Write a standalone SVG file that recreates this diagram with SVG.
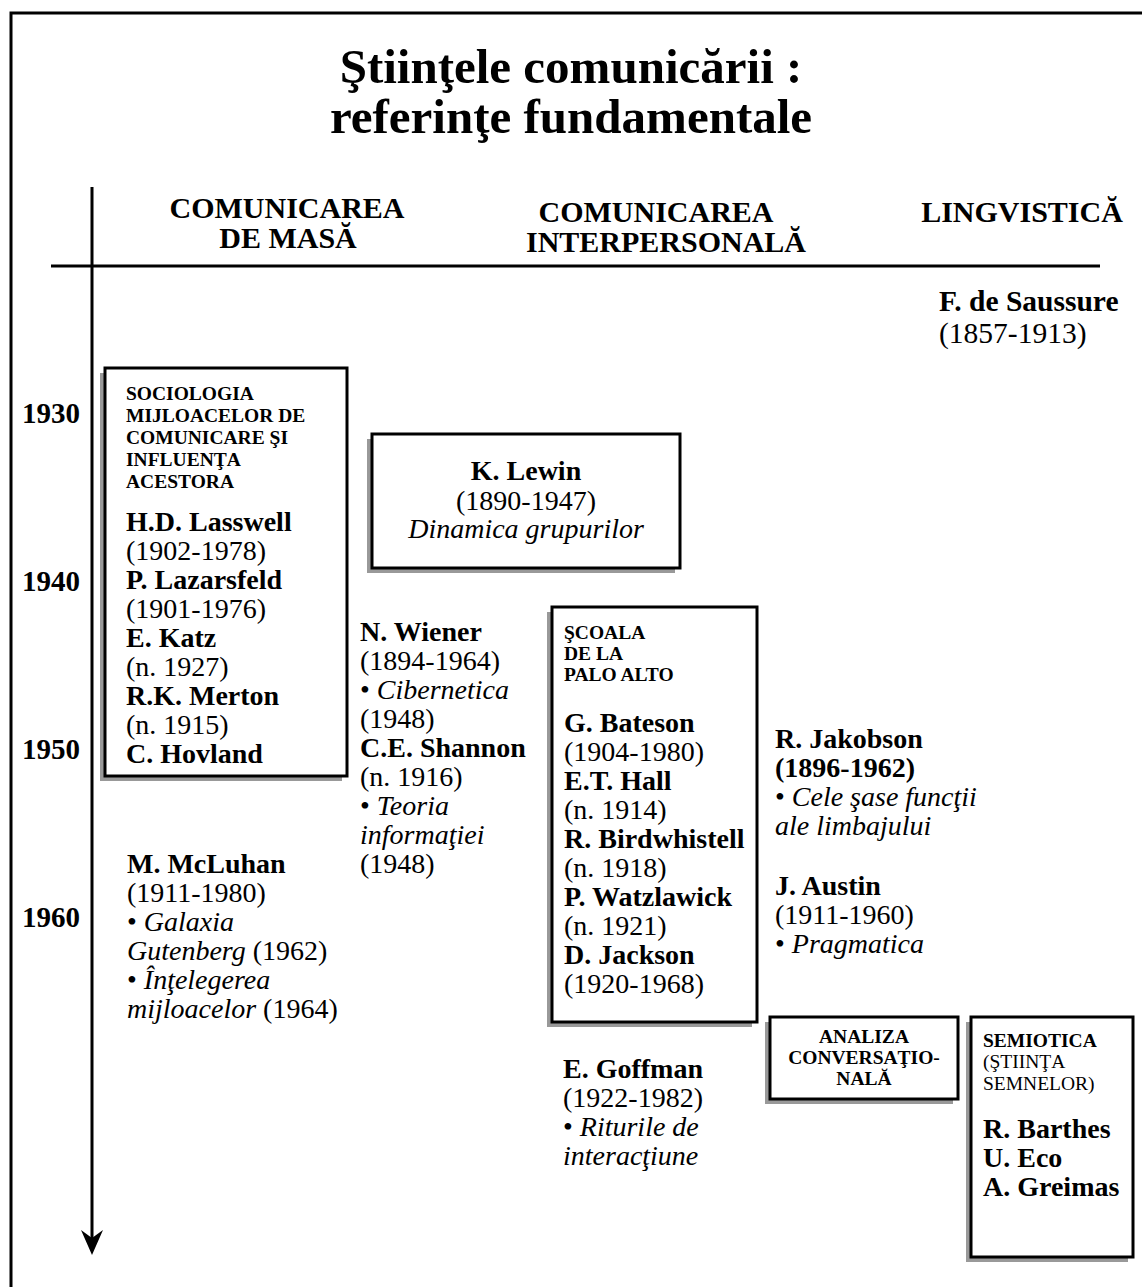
<svg xmlns="http://www.w3.org/2000/svg" width="1142" height="1287" viewBox="0 0 1142 1287">
  <style>
    text { font-family: "Liberation Serif", "Times New Roman", serif; fill: #000; }
    .title { font-size: 49px; font-weight: bold; text-anchor: middle; }
    .head { font-size: 30px; font-weight: bold; text-anchor: middle; }
    .year { font-size: 29px; font-weight: bold; }
    .t { font-size: 28px; }
    .b { font-weight: bold; }
    .i { font-style: italic; }
    .cap { font-size: 19.5px; font-weight: bold; }
    .capr { font-size: 19.5px; }
    .frame { fill: none; stroke: #000; stroke-width: 3; }
    .axis { fill: none; stroke: #000; stroke-width: 3; }
    .box { fill: #fff; stroke: #000; stroke-width: 3; }
    .shadow { fill: #999; }
  </style>

  <rect x="0" y="0" width="1142" height="1287" fill="#fff"/>
  <rect class="frame" x="11" y="13" width="1200" height="1300"/>

  <g id="title">
    <text class="title" x="571" y="83">Ştiinţele comunicării :</text>
    <text class="title" x="571" y="133">referinţe fundamentale</text>
  </g>

  <g id="headers">
    <text class="head" x="287" y="218">COMUNICAREA</text>
    <text class="head" x="288" y="248">DE MASĂ</text>
    <text class="head" x="656" y="222">COMUNICAREA</text>
    <text class="head" x="666" y="252">INTERPERSONALĂ</text>
    <text class="head" x="1022" y="222">LINGVISTICĂ</text>
  </g>

  <!-- time axis and column rule -->
  <g id="connectors">
    <line class="axis" x1="51" y1="266" x2="1100" y2="266"/>
    <line class="axis" x1="92" y1="187" x2="92" y2="1240"/>
    <path d="M81,1230 L92,1238 L103,1230 L92,1255 Z" fill="#000"/>
  </g>

  <g id="years">
    <text class="year" x="22" y="423">1930</text>
    <text class="year" x="22" y="591">1940</text>
    <text class="year" x="22" y="759">1950</text>
    <text class="year" x="22" y="927">1960</text>
  </g>

  <g id="saussure">
    <text class="t b" x="939" y="311" style="font-size:29.5px">F. de Saussure</text>
    <text class="t" x="939" y="343" style="font-size:29.5px">(1857-1913)</text>
  </g>

  <g id="sociologia">
    <rect class="shadow" x="100" y="373" width="242" height="408"/>
    <rect class="box" x="105" y="368" width="242" height="408"/>
    <text class="cap" x="126" y="400">SOCIOLOGIA</text>
    <text class="cap" x="126" y="422">MIJLOACELOR DE</text>
    <text class="cap" x="126" y="444">COMUNICARE ŞI</text>
    <text class="cap" x="126" y="466">INFLUENŢA</text>
    <text class="cap" x="126" y="488">ACESTORA</text>
    <text class="t b" x="126" y="531">H.D. Lasswell</text>
    <text class="t" x="126" y="560">(1902-1978)</text>
    <text class="t b" x="126" y="589">P. Lazarsfeld</text>
    <text class="t" x="126" y="618">(1901-1976)</text>
    <text class="t b" x="126" y="647">E. Katz</text>
    <text class="t" x="126" y="676">(n. 1927)</text>
    <text class="t b" x="126" y="705">R.K. Merton</text>
    <text class="t" x="126" y="734">(n. 1915)</text>
    <text class="t b" x="126" y="763">C. Hovland</text>
  </g>

  <g id="lewin">
    <rect class="shadow" x="367" y="439" width="308" height="134"/>
    <rect class="box" x="372" y="434" width="308" height="134"/>
    <text class="t b" x="526" y="480" text-anchor="middle">K. Lewin</text>
    <text class="t" x="526" y="510" text-anchor="middle">(1890-1947)</text>
    <text class="t i" x="526" y="538" text-anchor="middle">Dinamica grupurilor</text>
  </g>

  <g id="mcluhan">
    <text class="t b" x="127" y="873">M. McLuhan</text>
    <text class="t" x="127" y="902">(1911-1980)</text>
    <text class="t" x="127" y="931">• <tspan class="i">Galaxia</tspan></text>
    <text class="t" x="127" y="960"><tspan class="i">Gutenberg</tspan> (1962)</text>
    <text class="t" x="127" y="989">• <tspan class="i">Înţelegerea</tspan></text>
    <text class="t" x="127" y="1018"><tspan class="i">mijloacelor</tspan> (1964)</text>
  </g>

  <g id="wiener-shannon">
    <text class="t b" x="360" y="641">N. Wiener</text>
    <text class="t" x="360" y="670">(1894-1964)</text>
    <text class="t" x="360" y="699">• <tspan class="i">Cibernetica</tspan></text>
    <text class="t" x="360" y="728">(1948)</text>
    <text class="t b" x="360" y="757">C.E. Shannon</text>
    <text class="t" x="360" y="786">(n. 1916)</text>
    <text class="t" x="360" y="815">• <tspan class="i">Teoria</tspan></text>
    <text class="t i" x="360" y="844">informaţiei</text>
    <text class="t" x="360" y="873">(1948)</text>
  </g>

  <g id="palo-alto">
    <rect class="shadow" x="547" y="612" width="205" height="415"/>
    <rect class="box" x="552" y="607" width="205" height="415"/>
    <text class="cap" x="564" y="639">ŞCOALA</text>
    <text class="cap" x="564" y="660">DE LA</text>
    <text class="cap" x="564" y="681">PALO ALTO</text>
    <text class="t b" x="564" y="732">G. Bateson</text>
    <text class="t" x="564" y="761">(1904-1980)</text>
    <text class="t b" x="564" y="790">E.T. Hall</text>
    <text class="t" x="564" y="819">(n. 1914)</text>
    <text class="t b" x="564" y="848">R. Birdwhistell</text>
    <text class="t" x="564" y="877">(n. 1918)</text>
    <text class="t b" x="564" y="906">P. Watzlawick</text>
    <text class="t" x="564" y="935">(n. 1921)</text>
    <text class="t b" x="564" y="964">D. Jackson</text>
    <text class="t" x="564" y="993">(1920-1968)</text>
  </g>

  <g id="goffman">
    <text class="t b" x="563" y="1078">E. Goffman</text>
    <text class="t" x="563" y="1107">(1922-1982)</text>
    <text class="t" x="563" y="1136">• <tspan class="i">Riturile de</tspan></text>
    <text class="t i" x="563" y="1165">interacţiune</text>
  </g>

  <g id="jakobson-austin">
    <text class="t b" x="775" y="748">R. Jakobson</text>
    <text class="t b" x="775" y="777">(1896-1962)</text>
    <text class="t" x="775" y="806">• <tspan class="i">Cele şase funcţii</tspan></text>
    <text class="t i" x="775" y="835">ale limbajului</text>
    <text class="t b" x="775" y="895">J. Austin</text>
    <text class="t" x="775" y="924">(1911-1960)</text>
    <text class="t" x="775" y="953">• <tspan class="i">Pragmatica</tspan></text>
  </g>

  <g id="analiza">
    <rect class="shadow" x="765" y="1022" width="188" height="82"/>
    <rect class="box" x="770" y="1017" width="188" height="82"/>
    <text class="cap" x="864" y="1043" text-anchor="middle">ANALIZA</text>
    <text class="cap" x="864" y="1064" text-anchor="middle">CONVERSAŢIO-</text>
    <text class="cap" x="864" y="1085" text-anchor="middle">NALĂ</text>
  </g>

  <g id="semiotica">
    <rect class="shadow" x="966" y="1022" width="162" height="240"/>
    <rect class="box" x="971" y="1017" width="162" height="240"/>
    <text class="cap" x="983" y="1047">SEMIOTICA</text>
    <text class="capr" x="983" y="1068">(ŞTIINŢA</text>
    <text class="capr" x="983" y="1090">SEMNELOR)</text>
    <text class="t b" x="983" y="1138">R. Barthes</text>
    <text class="t b" x="983" y="1167">U. Eco</text>
    <text class="t b" x="983" y="1196">A. Greimas</text>
  </g>
</svg>
